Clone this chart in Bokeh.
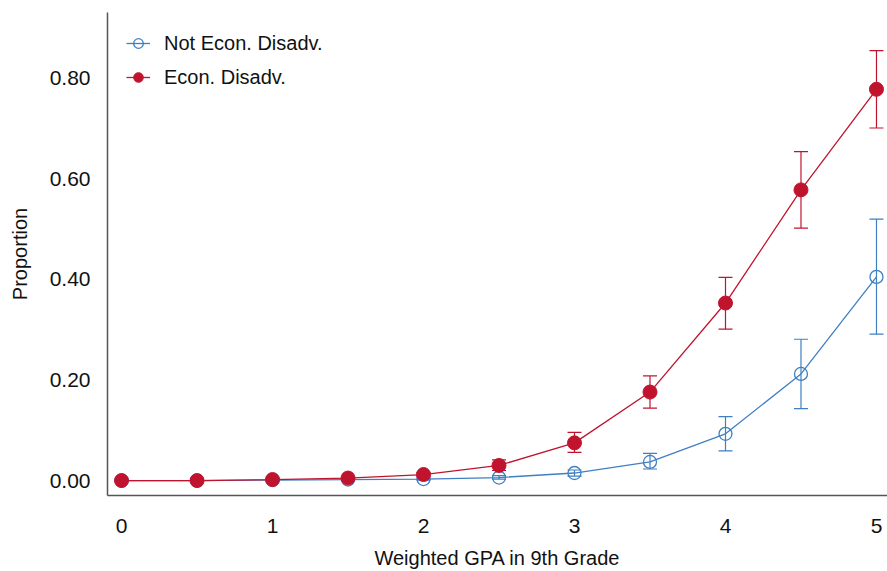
from bokeh.plotting import figure
from bokeh.models import ColumnDataSource, Whisker, TeeHead, FixedTicker, PrintfTickFormatter, Range1d
from bokeh.embed import file_html
from bokeh.resources import INLINE

gpa = [0, 0.5, 1, 1.5, 2, 2.5, 3, 3.5, 4, 4.5, 5]

not_dis = [0.000, 0.000, 0.001, 0.002, 0.003, 0.006, 0.015, 0.037, 0.093, 0.212, 0.405]
not_dis_lo = [0.000, 0.000, 0.000, 0.001, 0.001, 0.003, 0.009, 0.023, 0.059, 0.143, 0.291]
not_dis_hi = [0.000, 0.000, 0.002, 0.003, 0.005, 0.010, 0.021, 0.054, 0.127, 0.281, 0.520]

dis = [0.000, 0.000, 0.002, 0.005, 0.012, 0.030, 0.075, 0.176, 0.353, 0.578, 0.778]
dis_lo = [0.000, 0.000, 0.001, 0.003, 0.008, 0.020, 0.056, 0.144, 0.301, 0.502, 0.701]
dis_hi = [0.000, 0.000, 0.003, 0.007, 0.016, 0.041, 0.096, 0.208, 0.404, 0.654, 0.855]

y_ticks = [0.0, 0.2, 0.4, 0.6, 0.8]
x_ticks = [0, 1, 2, 3, 4, 5]

BLUE = "#3F7FC2"
RED = "#C0142E"
FONT = "Liberation Sans"

p = figure(width=887, height=571, output_backend="svg", toolbar_location=None,
           x_range=Range1d(-0.093, 5.073), y_range=Range1d(-0.0297, 0.9307),
           min_border_left=107, min_border_top=12, min_border_right=0, min_border_bottom=74)
p.outline_line_color = None
p.xgrid.grid_line_color = None
p.ygrid.grid_line_color = None

src_n = ColumnDataSource(dict(x=gpa, y=not_dis, lo=not_dis_lo, hi=not_dis_hi))
src_d = ColumnDataSource(dict(x=gpa, y=dis, lo=dis_lo, hi=dis_hi))

for src, col in ((src_n, BLUE), (src_d, RED)):
    w = Whisker(source=src, base="x", lower="lo", upper="hi", line_color=col, line_width=1.2,
                upper_head=TeeHead(size=14, line_color=col, line_width=1.2),
                lower_head=TeeHead(size=14, line_color=col, line_width=1.2))
    p.add_layout(w)

p.line("x", "y", source=src_n, line_color=BLUE, line_width=1.3, legend_label="Not Econ. Disadv.")
p.scatter("x", "y", source=src_n, size=13, marker="circle", fill_color=None,
          line_color=BLUE, line_width=1.3, legend_label="Not Econ. Disadv.")
p.line("x", "y", source=src_d, line_color=RED, line_width=1.3, legend_label="Econ. Disadv.")
p.scatter("x", "y", source=src_d, size=14, marker="circle", fill_color=RED,
          line_color=RED, legend_label="Econ. Disadv.")

for ax in (p.xaxis[0], p.yaxis[0]):
    ax.axis_line_color = "#555555"
    ax.axis_line_width = 1.5
    ax.major_tick_line_color = None
    ax.minor_tick_line_color = None
    ax.major_label_text_font = FONT
    ax.major_label_text_font_size = "21px"
    ax.major_label_text_color = "#111111"
    ax.axis_label_text_font = FONT
    ax.axis_label_text_font_size = "20px"
    ax.axis_label_text_font_style = "normal"
    ax.axis_label_text_color = "#111111"

p.xaxis.ticker = FixedTicker(ticks=x_ticks)
p.yaxis.ticker = FixedTicker(ticks=y_ticks)
p.yaxis.formatter = PrintfTickFormatter(format="%.2f")
p.xaxis.axis_label = "Weighted GPA in 9th Grade"
p.yaxis.axis_label = "Proportion"
p.xaxis.major_label_standoff = 17
p.yaxis.major_label_standoff = 11
p.xaxis.axis_label_standoff = 11
p.yaxis.axis_label_standoff = 16

lg = p.legend[0]
lg.location = "top_left"
lg.border_line_color = None
lg.background_fill_alpha = 0
lg.margin = 19
lg.padding = 10
lg.glyph_height = 24
lg.label_height = 24
lg.glyph_width = 24
lg.spacing = 10
lg.label_standoff = 14
lg.label_text_font = FONT
lg.label_text_font_size = "20px"
lg.label_text_color = "#111111"

open("out.html", "w").write(file_html(p, INLINE))
